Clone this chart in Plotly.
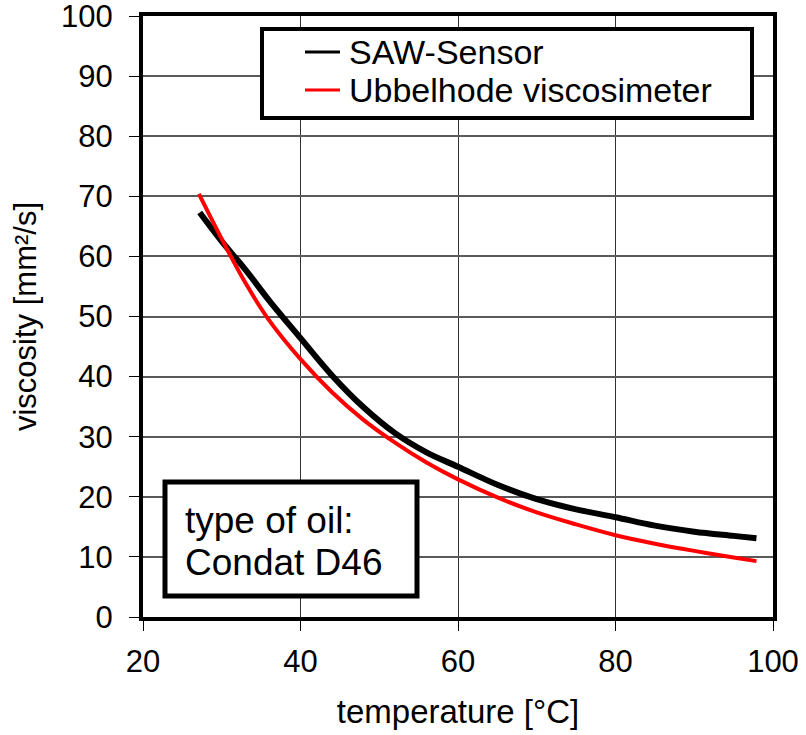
import plotly.graph_objects as go

# ---- data ----
temp_saw = [27.2, 30, 33, 36, 40, 44, 48, 52, 56, 60, 65, 70, 75, 80, 85, 90, 95, 97.9]
visc_saw = [67.3, 62.5, 57.8, 52.7, 46.4, 40.2, 34.9, 30.6, 27.4, 25.0, 22.0, 19.6, 17.9, 16.6, 15.2, 14.2, 13.5, 13.1]

temp_ubb = [27.1, 30, 33, 36, 40, 44, 48, 52, 56, 60, 65, 70, 75, 80, 85, 90, 95, 97.9]
visc_ubb = [70.4, 62.9, 55.6, 49.4, 42.9, 37.4, 32.8, 29.0, 25.7, 22.9, 19.9, 17.4, 15.4, 13.6, 12.2, 11.0, 9.9, 9.3]

x_ticks = [20, 40, 60, 80, 100]
y_ticks = [0, 10, 20, 30, 40, 50, 60, 70, 80, 90, 100]

series_names = ["SAW-Sensor", "Ubbelhode viscosimeter"]
series_colors = ["#000000", "#ff0000"]
note_lines = ["type of oil:", "Condat D46"]

FONT = "Liberation Sans, Arial, sans-serif"

fig = go.Figure()
fig.add_trace(go.Scatter(x=temp_saw, y=visc_saw, mode="lines", name=series_names[0],
                         line=dict(color=series_colors[0], width=6, shape="spline", smoothing=1.0)))
fig.add_trace(go.Scatter(x=temp_ubb, y=visc_ubb, mode="lines", name=series_names[1],
                         line=dict(color=series_colors[1], width=4, shape="spline", smoothing=1.0)))

L, R, T, B = 143, 33, 16, 118
W, H = 806, 735
pw, ph = W - L - R, H - T - B

def px(xp):
    return (xp - L) / pw

def py(yp):
    return (H - B - yp) / ph

shapes = []
annotations = []

# legend box
shapes.append(dict(type="rect", xref="paper", yref="paper", x0=px(262), x1=px(752), y0=py(118), y1=py(29),
                   line=dict(color="black", width=4), fillcolor="white", layer="above"))
for nm, col, yy in zip(series_names, series_colors, [52, 90]):
    shapes.append(dict(type="line", xref="paper", yref="paper", x0=px(305), x1=px(340), y0=py(yy), y1=py(yy),
                       line=dict(color=col, width=3), layer="above"))
    annotations.append(dict(xref="paper", yref="paper", x=px(347), y=py(yy), xanchor="left", yanchor="middle",
                            text=nm, showarrow=False, font=dict(family=FONT, size=34, color="black")))

# note box
shapes.append(dict(type="rect", xref="paper", yref="paper", x0=px(165), x1=px(417), y0=py(596), y1=py(482),
                   line=dict(color="black", width=5), fillcolor="white", layer="above"))
for txt, yy in zip(note_lines, [520, 562]):
    annotations.append(dict(xref="paper", yref="paper", x=px(183), y=py(yy), xanchor="left", yanchor="middle",
                            text=txt, showarrow=False, font=dict(family=FONT, size=37, color="black")))

fig.update_layout(
    width=W, height=H,
    margin=dict(l=L, r=R, t=T, b=B, autoexpand=False),
    paper_bgcolor="white", plot_bgcolor="white",
    showlegend=False,
    font=dict(family=FONT, color="black"),
    shapes=shapes, annotations=annotations,
)
fig.update_xaxes(
    range=[20, 100], tickvals=x_ticks, ticktext=[str(v) for v in x_ticks],
    showline=True, linewidth=4, linecolor="black", mirror=True,
    ticks="outside", ticklen=10, tickwidth=1, tickcolor="black",
    showgrid=True, gridcolor="#333333", gridwidth=1, zeroline=False,
    tickfont=dict(family=FONT, size=31, color="black"),
    title=dict(text="temperature [°C]", font=dict(family=FONT, size=33, color="black"), standoff=23),
    ticklabelstandoff=4, ticklabeloverflow="allow", automargin=False,
)
fig.update_yaxes(
    range=[0, 100], tickvals=y_ticks, ticktext=[str(v) for v in y_ticks],
    showline=True, linewidth=4, linecolor="black", mirror=True,
    ticks="outside", ticklen=10, tickwidth=1, tickcolor="black",
    showgrid=True, gridcolor="#5a5a5a", gridwidth=1.5, zeroline=False,
    tickfont=dict(family=FONT, size=31, color="black"),
    title=dict(text="viscosity [mm²/s]", font=dict(family=FONT, size=31, color="black"), standoff=16),
    ticklabelstandoff=10, ticklabeloverflow="allow", automargin=False,
)

fig.write_html("out.html")
